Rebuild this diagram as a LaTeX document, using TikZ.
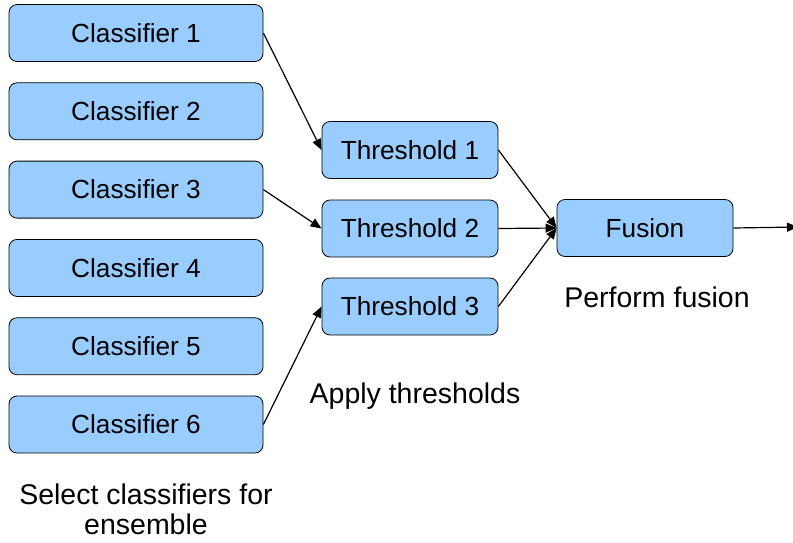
\documentclass[tikz,border=0pt]{standalone}
\usepackage{fontspec}
\setmainfont{Liberation Sans}
\usetikzlibrary{arrows.meta}
\definecolor{boxblue}{RGB}{153,204,255}

\begin{document}
\begin{tikzpicture}[x=1pt, y=-1pt, line join=round, >={Triangle[length=11pt,width=9pt]},
	box/.style={draw, line width=0.8pt, fill=boxblue, rounded corners=8pt, minimum height=57pt, font=\fontsize{26.2}{30}\selectfont},
	note/.style={align=center, font=\fontsize{28.5}{30}\selectfont},
	link/.style={->, line width=1.2pt}]
	\useasboundingbox (0,0) rectangle (793,542);
	% Các bộ phân loại
	\foreach \i in {1,...,6}
		\node[box, minimum width=254pt] (c\i) at (136,{33+78.3*(\i-1)}) {Classifier \i};
	% Các ngưỡng
	\node[box, minimum width=176pt] (t1) at (410,150) {Threshold 1};
	\node[box, minimum width=176pt] (t2) at (410,228.5) {Threshold 2};
	\node[box, minimum width=176pt] (t3) at (410,306.5) {Threshold 3};
	% Khối hợp nhất
	\node[box, minimum width=176pt] (f) at (645,228) {Fusion};
	\coordinate (out) at (798,227);
	% Các mũi tên
	\draw[link] (c1.east) -- (t1.west);
	\draw[link] (c3.east) -- (t2.west);
	\draw[link] (c6.east) -- (t3.west);
	\draw[link] (t1.east) -- (f.west);
	\draw[link] (t2.east) -- (f.west);
	\draw[link] (t3.east) -- (f.west);
	\draw[link] (f.east) -- (out);
	% Chú thích
	\node[note] (n1) at (146,509) {Select classifiers for\\ensemble};
	\node[note] (n2) at (415,396) {Apply thresholds};
	\node[note] (n3) at (657,297) {Perform fusion};
\end{tikzpicture}
\end{document}
